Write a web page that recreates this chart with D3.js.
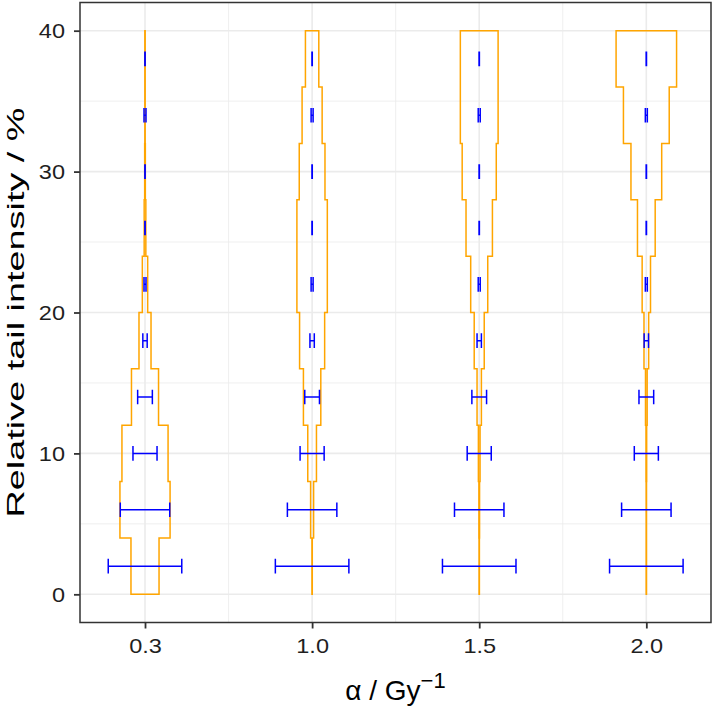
<!DOCTYPE html>
<html>
<head>
<meta charset="utf-8">
<script src="https://cdn.jsdelivr.net/npm/d3@7"></script>
<style>
  body { margin: 0; background: #fff; }
  svg { display: block; font-family: "Liberation Sans", Arial, sans-serif; }
</style>
</head>
<body>
<div id="chart"></div>
<script>
// Categories on the x axis (alpha / Gy^-1)
const categories = ['0.3', '1.0', '1.5', '2.0'];

// Bin edges of the stepped outlines (relative tail intensity, %)
const binEdges = [0, 4, 8, 12, 16, 20, 24, 28, 32, 36, 40];

// Half widths of each bin, in category units, one array per category
const halfWidth03 = [0.084, 0.150, 0.138, 0.081, 0.036, 0.016, 0.005, 0.002, 0.001, 0.001];
const halfWidth10 = [0.001, 0.009, 0.026, 0.052, 0.075, 0.091, 0.091, 0.077, 0.060, 0.040];
const halfWidth15 = [0.001, 0.002, 0.005, 0.013, 0.030, 0.051, 0.079, 0.102, 0.113, 0.113];
const halfWidth20 = [0.001, 0.001, 0.002, 0.005, 0.014, 0.025, 0.053, 0.092, 0.137, 0.181];
const halfWidths = [halfWidth03, halfWidth10, halfWidth15, halfWidth20];

// Horizontal error bars: centre and half width (category units), same for every category
const errY = [2, 6, 10, 14, 18, 22, 26, 30, 34, 38];
const errHalf = [0.220, 0.148, 0.072, 0.044, 0.013, 0.006, 0.001, 0.001, 0.006, 0.001];

// Axis ticks
const yTicks = [0, 10, 20, 30, 40];
const yMinor = [5, 15, 25, 35];
const xMinor = [1.5, 2.5, 3.5];

// Dimensions
const svgWidth = 714;
const svgHeight = 709;
const panel = { left: 80, right: 711, top: 2.5, bottom: 622.5 };

const svg = d3.select('#chart')
    .append('svg')
    .attr('width', svgWidth)
    .attr('height', svgHeight);

// Scales
const xScale = d3.scaleLinear()
    .domain([0.611, 4.387])
    .range([panel.left, panel.right]);
const yScale = d3.scaleLinear()
    .domain([-2, 42])
    .range([panel.bottom, panel.top]);
const xPos = i => i + 1;

// Grid
const grid = svg.append('g').attr('stroke', '#ebebeb');
grid.selectAll('.ymin')
    .data(yMinor)
    .enter()
    .append('line')
    .attr('x1', panel.left).attr('x2', panel.right)
    .attr('y1', d => yScale(d)).attr('y2', d => yScale(d))
    .attr('stroke-width', 0.8);
grid.selectAll('.xmin')
    .data(xMinor)
    .enter()
    .append('line')
    .attr('y1', panel.top).attr('y2', panel.bottom)
    .attr('x1', d => xScale(d)).attr('x2', d => xScale(d))
    .attr('stroke-width', 0.8);
grid.selectAll('.ymaj')
    .data(yTicks)
    .enter()
    .append('line')
    .attr('x1', panel.left).attr('x2', panel.right)
    .attr('y1', d => yScale(d)).attr('y2', d => yScale(d))
    .attr('stroke-width', 1.6);
grid.selectAll('.xmaj')
    .data(categories)
    .enter()
    .append('line')
    .attr('y1', panel.top).attr('y2', panel.bottom)
    .attr('x1', (d, i) => xScale(xPos(i))).attr('x2', (d, i) => xScale(xPos(i)))
    .attr('stroke-width', 1.6);

// Stepped outlines
function outlinePath(hw, i) {
    const c = xPos(i);
    const pts = [];
    // left side, bottom to top
    hw.forEach((w, k) => {
        pts.push([xScale(c - w), yScale(binEdges[k])]);
        pts.push([xScale(c - w), yScale(binEdges[k + 1])]);
    });
    // right side, top to bottom
    for (let k = hw.length - 1; k >= 0; k--) {
        pts.push([xScale(c + hw[k]), yScale(binEdges[k + 1])]);
        pts.push([xScale(c + hw[k]), yScale(binEdges[k])]);
    }
    return d3.line()(pts) + 'Z';
}

svg.append('g')
    .selectAll('path')
    .data(halfWidths)
    .enter()
    .append('path')
    .attr('d', (d, i) => outlinePath(d, i))
    .attr('fill', 'none')
    .attr('stroke', 'orange')
    .attr('stroke-width', 1.5);

// Error bars
const capHalf = 0.52;
categories.forEach((cat, i) => {
    const c = xPos(i);
    const g = svg.append('g')
        .attr('stroke', '#0000ff')
        .attr('stroke-width', 1.5)
        .attr('fill', 'none');
    errY.forEach((yv, k) => {
        const h = errHalf[k];
        g.append('path')
            .attr('d', `M${xScale(c - h)},${yScale(yv - capHalf)}V${yScale(yv + capHalf)}`
                + `M${xScale(c + h)},${yScale(yv - capHalf)}V${yScale(yv + capHalf)}`
                + `M${xScale(c - h)},${yScale(yv)}H${xScale(c + h)}`);
    });
});

// Panel border
svg.append('rect')
    .attr('x', panel.left).attr('y', panel.top)
    .attr('width', panel.right - panel.left)
    .attr('height', panel.bottom - panel.top)
    .attr('fill', 'none')
    .attr('stroke', '#333')
    .attr('stroke-width', 1.5);

// stretch text along its baseline, the reference glyphs are wide
function stretch(sel, factor) {
    sel.each(function () {
        const len = this.getComputedTextLength();
        d3.select(this)
            .attr('textLength', len * factor)
            .attr('lengthAdjust', 'spacingAndGlyphs');
    });
}

// Axes
const yAxis = svg.append('g')
    .attr('transform', `translate(${panel.left},0)`)
    .call(d3.axisLeft(yScale).tickValues(yTicks).tickSize(6).tickPadding(9));
const xAxis = svg.append('g')
    .attr('transform', `translate(0,${panel.bottom})`)
    .call(d3.axisBottom(xScale)
        .tickValues(categories.map((d, i) => xPos(i)))
        .tickFormat((d, i) => categories[i])
        .tickSize(6).tickPadding(10));
[yAxis, xAxis].forEach(ax => {
    ax.select('.domain').remove();
    ax.selectAll('.tick line').attr('stroke', '#333').attr('stroke-width', 1.8);
    ax.selectAll('.tick text')
        .attr('fill', '#1f1f1f')
        .style('font-size', '21px')
        .style('font-family', '"Liberation Sans", Arial, sans-serif');
    stretch(ax.selectAll('.tick text'), 1.12);
});

// Axis titles
const yTitle = svg.append('text')
    .attr('transform', `translate(24,${(panel.top + panel.bottom) / 2}) rotate(-90)`)
    .attr('text-anchor', 'middle')
    .style('font-size', '24px')
    .attr('fill', '#000')
    .text('Relative tail intensity / %');
yTitle.attr('textLength', 410).attr('lengthAdjust', 'spacingAndGlyphs');

const xTitle = svg.append('text')
    .attr('x', (panel.left + panel.right) / 2)
    .attr('y', 700)
    .attr('text-anchor', 'middle')
    .style('font-size', '28px')
    .attr('fill', '#000');
xTitle.append('tspan').text('α / Gy');
xTitle.append('tspan')
    .attr('dy', -12)
    .style('font-size', '22px')
    .text('−1');
</script>
</body>
</html>
